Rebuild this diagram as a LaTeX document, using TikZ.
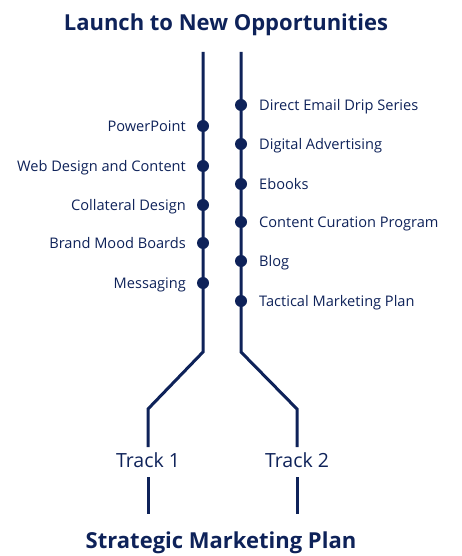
\documentclass[tikz,border=0pt]{standalone}
\usepackage{fontspec}
\setmainfont{Open Sans}
\definecolor{navy}{HTML}{0E2259}
\begin{document}
\begin{tikzpicture}[x=1pt,y=-1pt,
  track/.style={draw=navy,line width=3pt},
  dot/.style={circle,fill=navy,inner sep=0pt,minimum size=12pt},
  lab/.style={text=navy,font=\fontsize{14.6}{16}\selectfont,inner sep=0pt},
  ttl/.style={text=navy,font=\fontsize{22}{24}\selectfont\bfseries,inner sep=0pt,anchor=base},
  trk/.style={text=navy,font=\fontsize{19.5}{22}\selectfont,inner sep=0pt,anchor=base}]
\useasboundingbox (0,0) rectangle (462,556);
\node[ttl] (title) at (226,31) {Launch to New Opportunities};
\node[ttl] (bottom) at (221,548) {Strategic Marketing Plan};
% tracks
\coordinate (l0) at (203,52);
\coordinate (l1) at (203,352);
\coordinate (l2) at (148,409);
\coordinate (l3) at (148,447);
\coordinate (r0) at (241,52);
\coordinate (r1) at (241,352);
\coordinate (r2) at (297,409);
\coordinate (r3) at (297,447);
\draw[track] (l0) -- (l1) -- (l2) -- (l3);
\draw[track] (r0) -- (r1) -- (r2) -- (r3);
\node[trk] (t1) at (148,467) {Track 1};
\node[trk] (t2) at (297,467) {Track 2};
\coordinate (l4) at (148,477);
\coordinate (l5) at (148,514);
\coordinate (r4) at (297,477);
\coordinate (r5) at (297,514);
\draw[track] (l4) -- (l5);
\draw[track] (r4) -- (r5);
% left dots
\foreach \y/\t/\n in {126/PowerPoint/a,166/Web Design and Content/b,205/Collateral Design/c,243/Brand Mood Boards/d,283/Messaging/e}{
  \node[dot] (ld\n) at (203,\y) {};
  \node[lab,anchor=base east] (ll\n) at (186,\y+5.5) {\t};
}
\foreach \y/\t/\n in {105/Direct Email Drip Series/a,144/Digital Advertising/b,184/Ebooks/c,222/Content Curation Program/d,261/Blog/e,301/Tactical Marketing Plan/f}{
  \node[dot] (rd\n) at (241,\y) {};
  \node[lab,anchor=base west] (rl\n) at (259,\y+5.5) {\t};
}
\end{tikzpicture}
\end{document}
